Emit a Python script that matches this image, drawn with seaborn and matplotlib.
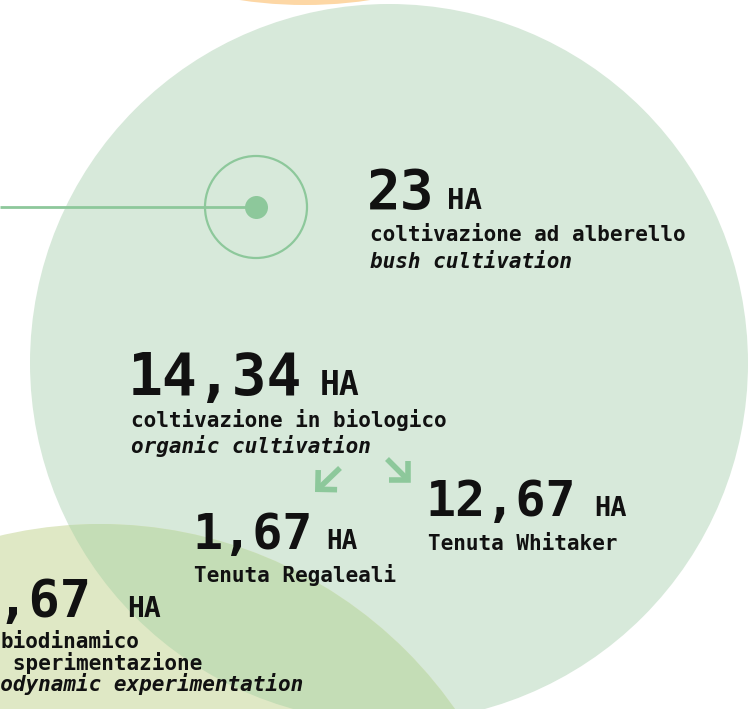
import matplotlib
matplotlib.use("Agg")
import matplotlib.pyplot as plt
from matplotlib.patches import Circle
import seaborn as sns

# hectares per cultivation type
values = ["23", "14,34", "1,67", "12,67", "0,67"]
unit = "HA"
labels_it = [
    "coltivazione ad alberello",
    "coltivazione in biologico",
    "Tenuta Regaleali",
    "Tenuta Whitaker",
    "biodinamico",
]
labels_en = ["bush cultivation", "organic cultivation", "", "", "biodynamic experimentation"]
extra_it = ["", "", "", "", "in sperimentazione"]

W, H = 749, 709
PT = 0.72  # px -> pt at dpi 100

# layout: number x / baseline / px size, HA x / px size, label x / baselines
layout = [
    dict(x=367, y=209, num=56, hx=447, hpx=29, lx=370, ly=[241, 268]),
    dict(x=128, y=395, num=58, hx=320, hpx=33, lx=131, ly=[427, 453]),
    dict(x=192, y=549, num=50, hx=326, hpx=26, lx=194, ly=[582]),
    dict(x=425, y=516, num=50, hx=594, hpx=27, lx=428, ly=[550]),
    dict(x=-33, y=617, num=52, hx=127, hpx=28, lx=-25, ly=[648, 670, 691]),
]

sns.set_theme(style="white")
plt.rcParams["font.family"] = ["DejaVu Sans Mono", "DejaVu Sans"]

fig = plt.figure(figsize=(W / 100, H / 100), dpi=100)
ax = fig.add_axes([0, 0, 1, 1])
ax.set_xlim(0, W)
ax.set_ylim(H, 0)
ax.axis("off")

# background circles
ax.add_patch(Circle((305, -430), 435, color="#FDD7A5", lw=0, zorder=1))
green = Circle((389, 363), 359, color="#D7E9DA", lw=0, zorder=1)
ax.add_patch(green)
ax.add_patch(Circle((100, 957), 433, color="#DFE8C5", lw=0, zorder=2))
overlap = Circle((100, 957), 433, color="#C4DDB6", lw=0, zorder=3)
ax.add_patch(overlap)
overlap.set_clip_path(green)

accent = "#8DC89B"
# target marker for bush cultivation
ax.plot([0, 256], [207, 207], color=accent, lw=2, solid_capstyle="butt", zorder=4)
ax.add_patch(Circle((256, 207), 51, fill=False, ec=accent, lw=1.6, zorder=4))
sns.scatterplot(x=[256], y=[207], s=(23 * PT) ** 2, color=accent, linewidth=0, ax=ax, zorder=5)

# arrows from organic to the two estates
arrow_kw = dict(arrowstyle="->,head_length=0.7,head_width=0.7", color=accent, lw=4,
                mutation_scale=14, shrinkA=0, shrinkB=0, capstyle="butt", joinstyle="miter")
ax.annotate("", xy=(315, 492), xytext=(340, 468), arrowprops=arrow_kw, zorder=5)
ax.annotate("", xy=(411, 483), xytext=(387, 459), arrowprops=arrow_kw, zorder=5)

# texts
for i, lay in enumerate(layout):
    ax.text(lay["x"], lay["y"], values[i], fontsize=lay["num"] * PT, fontweight="bold",
            color="#111111", va="baseline", ha="left", zorder=6)
    ax.text(lay["hx"], lay["y"], unit, fontsize=lay["hpx"] * PT, fontweight="bold",
            color="#111111", va="baseline", ha="left", zorder=6)
    lines = [(labels_it[i], "normal")]
    if extra_it[i]:
        lines.append((extra_it[i], "normal"))
    if labels_en[i]:
        lines.append((labels_en[i], "italic"))
    for j, (txt, style) in enumerate(lines):
        lx = lay["lx"]
        if i == 4 and j == 0:
            lx = 1
        ax.text(lx, lay["ly"][j], txt, fontsize=21 * PT, fontweight="bold", fontstyle=style,
                color="#111111", va="baseline", ha="left", zorder=6)

fig.savefig("out.png", dpi=100, facecolor="white")
